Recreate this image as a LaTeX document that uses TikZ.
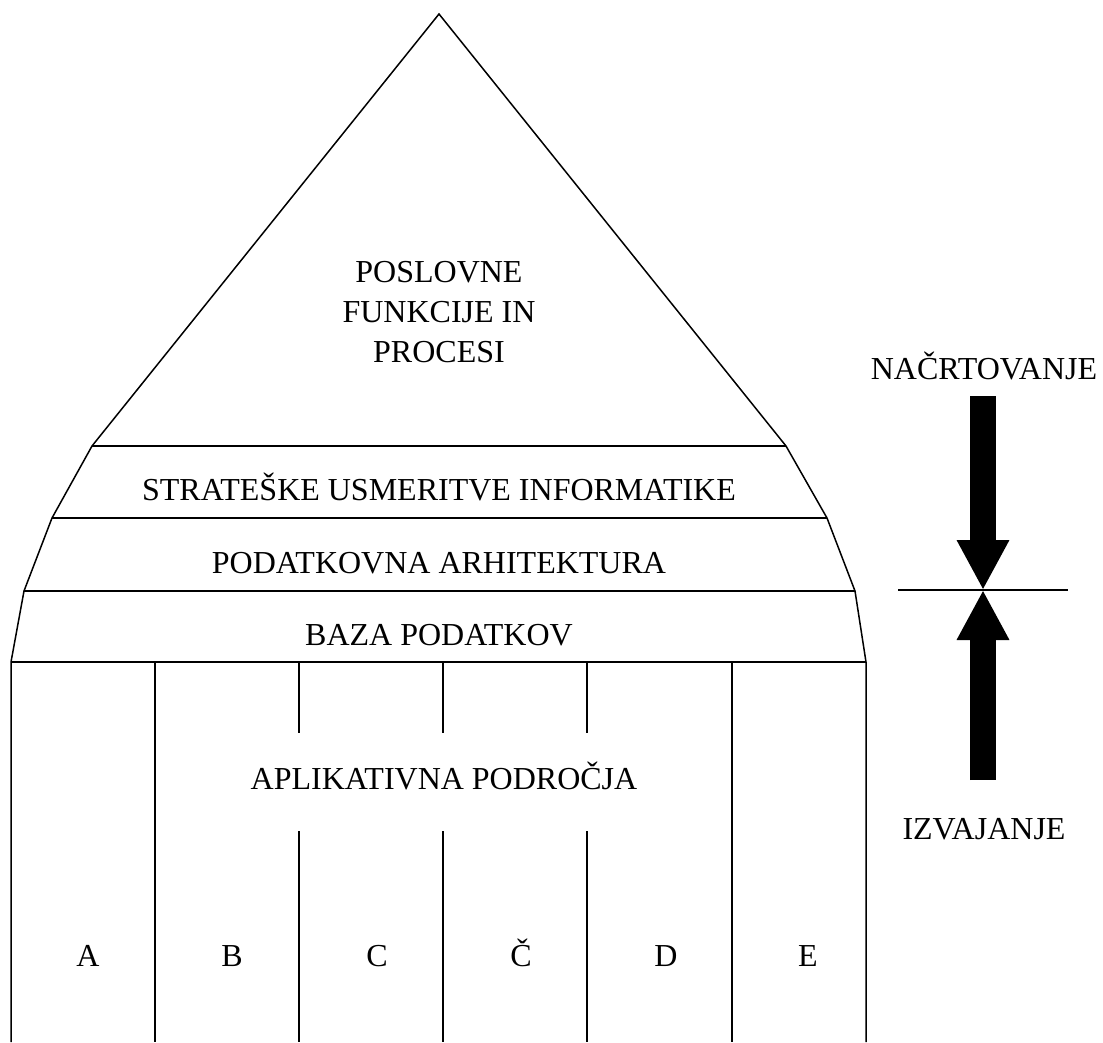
\documentclass[tikz,border=0pt]{standalone}
\usepackage{fontspec}
\setmainfont{Liberation Serif}
\usetikzlibrary{arrows.meta}
\tikzset{
  txt/.style={font=\fontsize{32}{40}\selectfont, align=center, inner sep=0pt},
  lbl/.style={txt, anchor=base},
  bigarrow/.style={line width=26pt, -{Triangle[length=50pt,width=49pt]}},
}
\begin{document}
\begin{tikzpicture}[x=1pt, y=-1pt, line width=1.5pt]
  \useasboundingbox (0,0) rectangle (1103,1042);
  % outline of the pyramid
  \coordinate (apex) at (439,14);
  \coordinate (l1) at (92,446);  \coordinate (r1) at (786,446);
  \coordinate (l2) at (52,518);  \coordinate (r2) at (827,518);
  \coordinate (l3) at (24,591);  \coordinate (r3) at (855,591);
  \coordinate (l4) at (11,662);  \coordinate (r4) at (866,662);
  \draw (11,1042) -- (l4) -- (l3) -- (l2) -- (l1) -- (apex) -- (r1) -- (r2) -- (r3) -- (r4) -- (866,1042);
  \draw (l1) -- (r1);
  \draw (l2) -- (r2);
  \draw (l3) -- (r3);
  \draw (l4) -- (r4);
  % columns
  \foreach \x in {155,732}
    \draw (\x,662) -- (\x,1042);
  \foreach \x in {299,443,587} {
    \draw (\x,662) -- (\x,733);
    \draw (\x,831) -- (\x,1042);
  }
  \node[txt] (proc) at (439,312) {POSLOVNE\\FUNKCIJE IN\\PROCESI};
  \node[lbl] (strat) at (439,500) {STRATEŠKE USMERITVE INFORMATIKE};
  \node[lbl] (arh) at (439,573) {PODATKOVNA ARHITEKTURA};
  \node[lbl] (baza) at (439,645) {BAZA PODATKOV};
  \node[lbl] (apl) at (444,789) {APLIKATIVNA PODROČJA};
  \foreach \l/\x in {A/88,B/232,C/377,Č/521,D/666,E/808}
    \node[lbl] (col\l) at (\x,966) {\l};
  % planning and execution
  \node[lbl] (plan) at (984,379) {NAČRTOVANJE};
  \node[lbl] (izv) at (984,839) {IZVAJANJE};
  \coordinate (mid) at (983,590);
  \coordinate (mleft) at (898,590);
  \coordinate (mright) at (1068,590);
  \draw (mleft) -- (mright);
  \draw[bigarrow] (983,396) -- (mid);
  \draw[bigarrow] (983,780) -- (mid);
\end{tikzpicture}
\end{document}
